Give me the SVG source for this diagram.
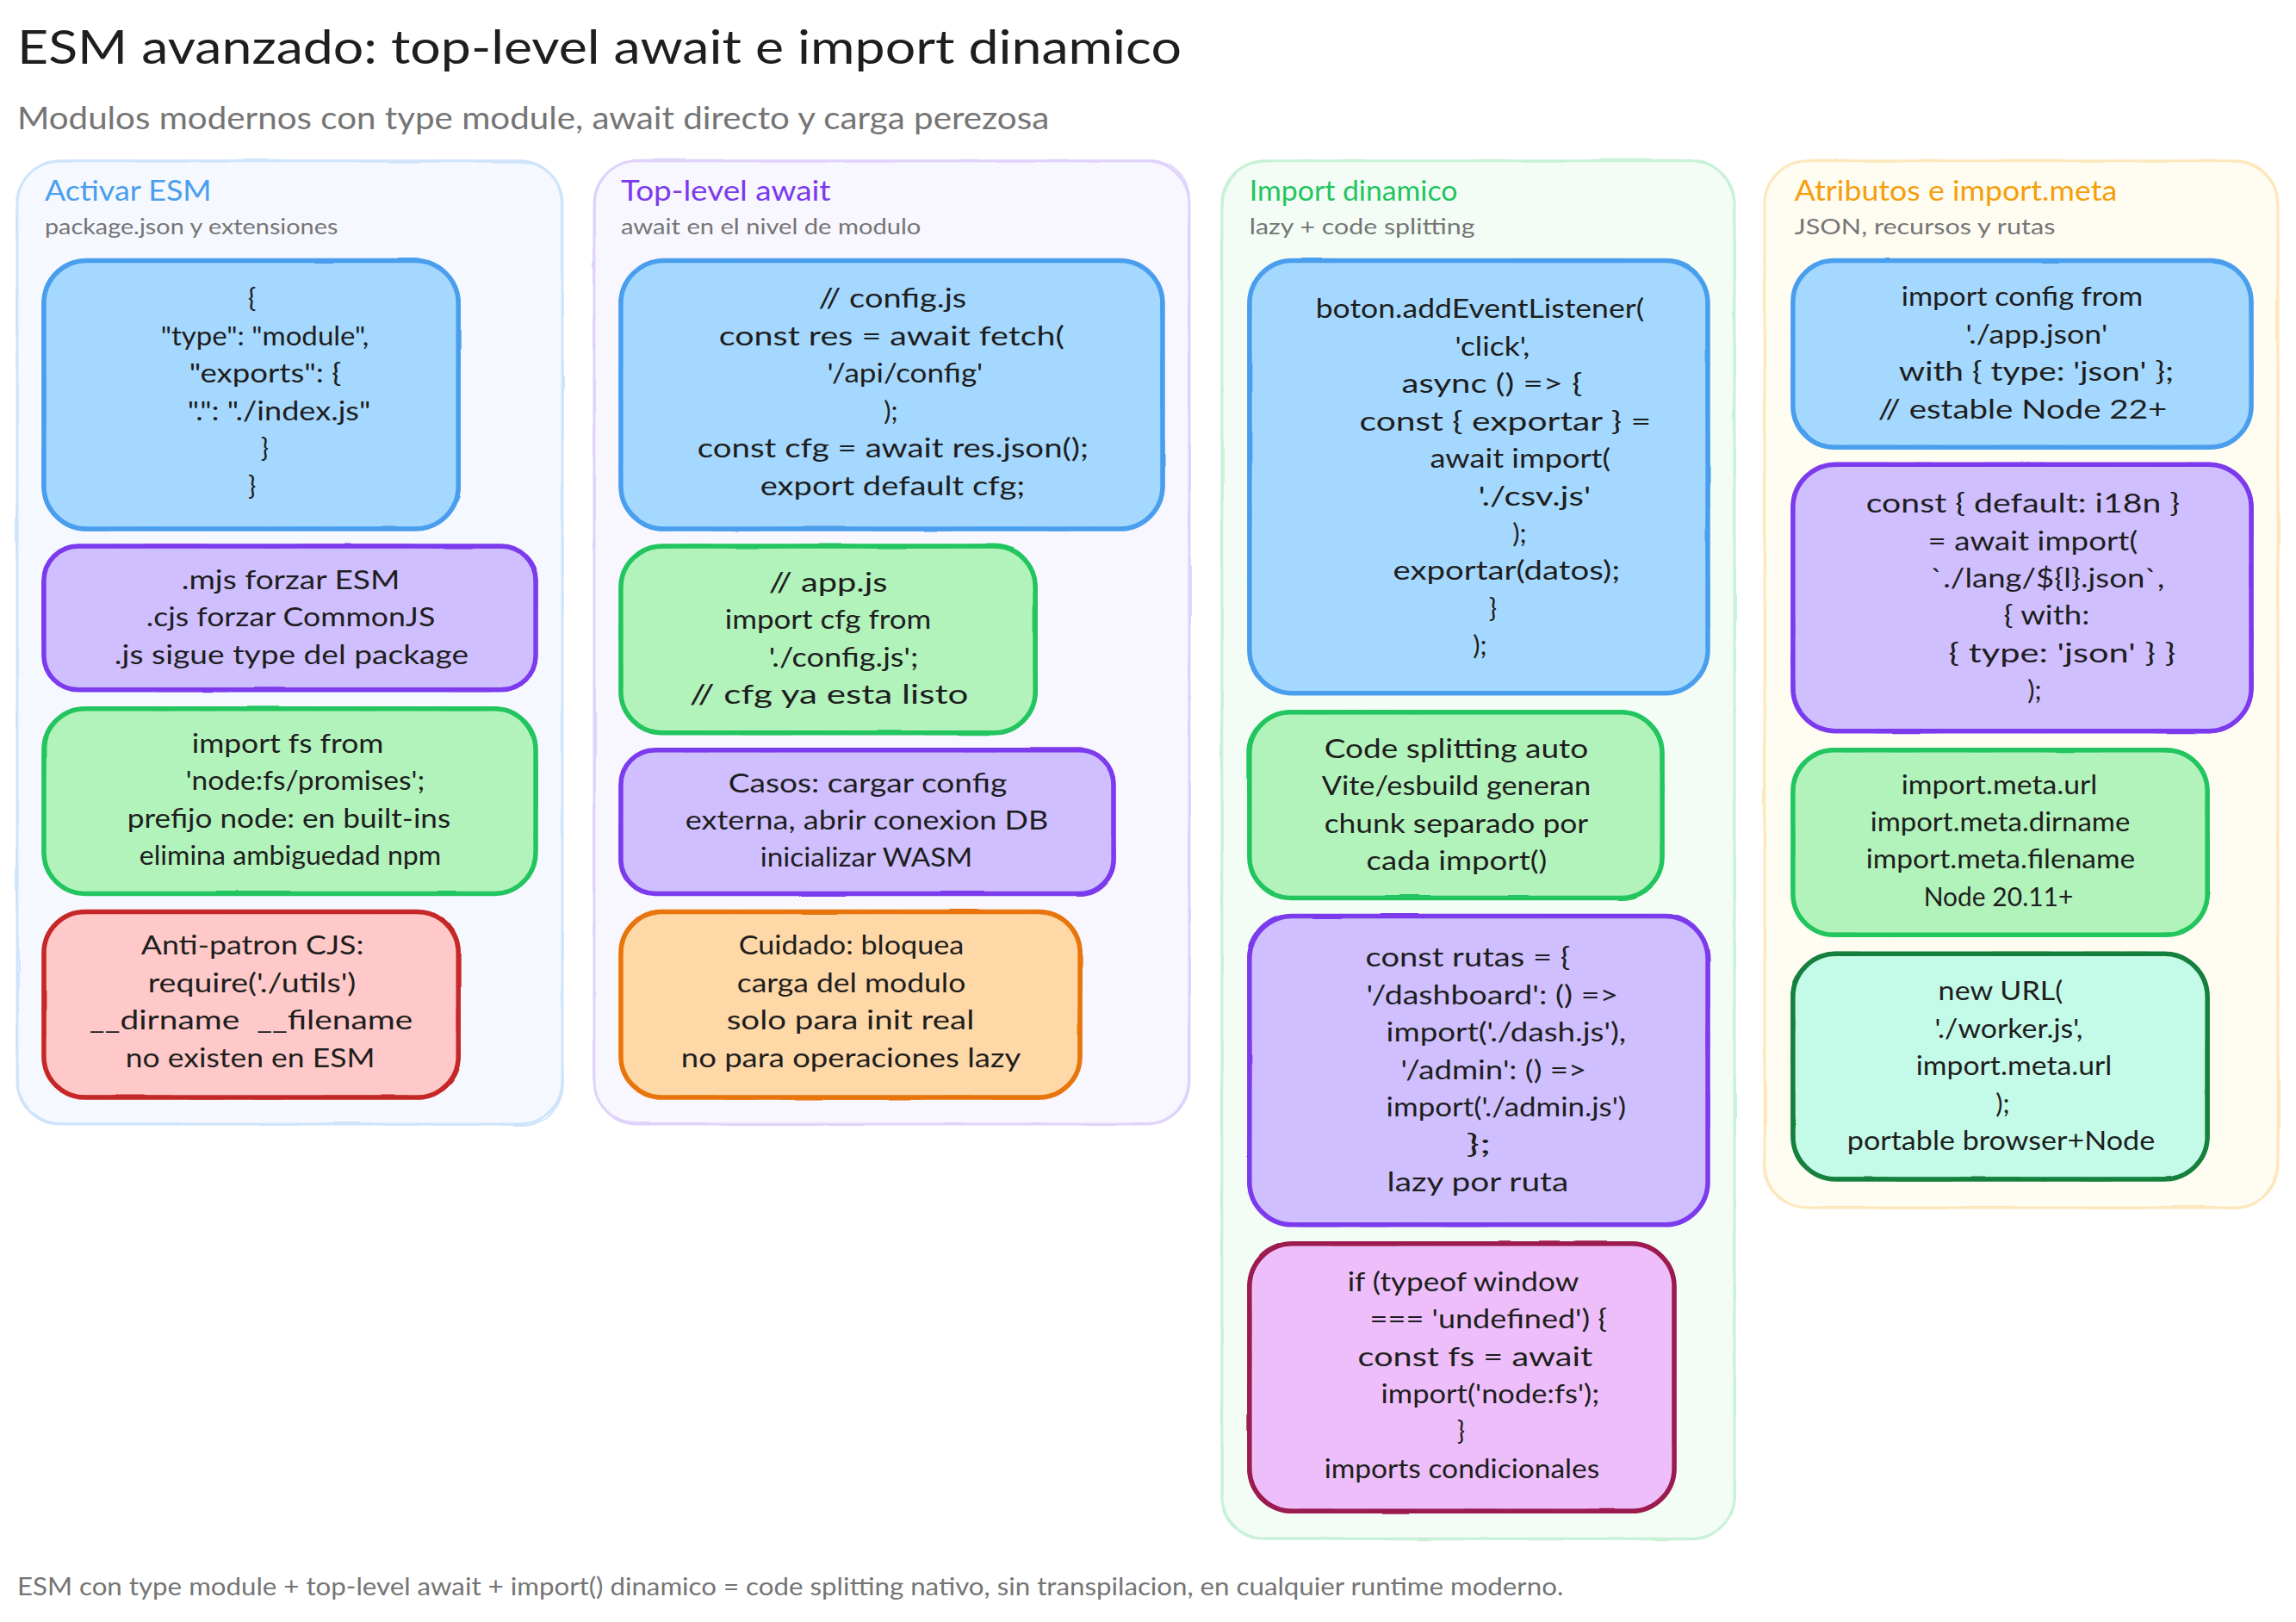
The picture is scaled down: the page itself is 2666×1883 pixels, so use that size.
<svg xmlns="http://www.w3.org/2000/svg" width="2666" height="1883" viewBox="0 0 2666 1883">
<style>
text{font-family:"Lato","Open Sans","Liberation Sans",sans-serif;fill:#1e1e1e}
.t{font-size:31px}
.m{text-anchor:middle}
.title{font-size:55px}
.sub{font-size:37px;fill:#757575}
.foot{font-size:28px;fill:#757575}
.ph{font-size:33px}
.ps{font-size:26px;fill:#757575}
.p rect{stroke-width:3}
.p .s{fill:none;stroke-width:2;filter:url(#w)}
.n rect{stroke-width:5.5}
.n .s{fill:none;stroke-width:3;filter:url(#w)}
.blue rect{fill:#a5d8ff;stroke:#4a9eed}
.purple rect{fill:#d0bfff;stroke:#7c3aed}
.green rect{fill:#b2f2bb;stroke:#22c55e}
.red rect{fill:#ffc9c9;stroke:#c62828}
.orange rect{fill:#ffd8a8;stroke:#e8750a}
.pink rect{fill:#eebefa;stroke:#9c1a4f}
.teal rect{fill:#c3fae8;stroke:#15803d}
.pb rect{fill:#f5f8ff;stroke:#cfe4fb}
.pv rect{fill:#f8f6ff;stroke:#e0d3fb}
.pg rect{fill:#f3fdf6;stroke:#c8f1d7}
.py rect{fill:#fffcf2;stroke:#fde8bd}
.s{fill:none}
</style>
<defs>
<filter id="w" x="-5%" y="-5%" width="110%" height="110%"><feTurbulence type="fractalNoise" baseFrequency="0.012" numOctaves="2" seed="7"/><feDisplacementMap in="SourceGraphic" scale="7" xChannelSelector="R" yChannelSelector="G"/></filter>
</defs>
<rect width="2666" height="1883" fill="#ffffff"/>
<g id="diagram" transform="scale(0.9985)">
<g id="header">
<text class="title" x="20" y="74" textLength="1354" lengthAdjust="spacingAndGlyphs">ESM avanzado: top-level await e import dinamico</text>
<text class="sub" x="20" y="150" textLength="1200" lengthAdjust="spacingAndGlyphs">Modulos modernos con type module, await directo y carga perezosa</text>
</g>
<g id="panel-esm" class="p pb"><rect x="20" y="187" width="634" height="1120" rx="50"/><rect class="s" x="20" y="187" width="634" height="1120" rx="50"/>
<text class="ph" x="52" y="233" textLength="194" lengthAdjust="spacingAndGlyphs" style="fill:#4a9eed">Activar ESM</text>
<text class="ps" x="52" y="272" textLength="341" lengthAdjust="spacingAndGlyphs">package.json y extensiones</text></g>
<g id="panel-tla" class="p pv"><rect x="691" y="187" width="692" height="1120" rx="50"/><rect class="s" x="691" y="187" width="692" height="1120" rx="50"/>
<text class="ph" x="722" y="233" textLength="244" lengthAdjust="spacingAndGlyphs" style="fill:#7c3aed">Top-level await</text>
<text class="ps" x="722" y="272" textLength="349" lengthAdjust="spacingAndGlyphs">await en el nivel de modulo</text></g>
<g id="panel-dyn" class="p pg"><rect x="1421" y="187" width="596" height="1602" rx="50"/><rect class="s" x="1421" y="187" width="596" height="1602" rx="50"/>
<text class="ph" x="1453" y="233" textLength="242" lengthAdjust="spacingAndGlyphs" style="fill:#22c55e">Import dinamico</text>
<text class="ps" x="1453" y="272" textLength="262" lengthAdjust="spacingAndGlyphs">lazy + code splitting</text></g>
<g id="panel-attr" class="p py"><rect x="2052" y="187" width="597" height="1217" rx="50"/><rect class="s" x="2052" y="187" width="597" height="1217" rx="50"/>
<text class="ph" x="2087" y="233" textLength="375" lengthAdjust="spacingAndGlyphs" style="fill:#f59e0b">Atributos e import.meta</text>
<text class="ps" x="2087" y="272" textLength="303" lengthAdjust="spacingAndGlyphs">JSON, recursos y rutas</text></g>

<g id="esm-1" class="n blue"><rect x="51" y="303" width="482" height="312" rx="50"/><rect class="s" x="51" y="303" width="482" height="312" rx="50"/>
<text class="t m" x="293" y="358">{</text>
<text class="t" x="187" y="401.5" textLength="242" lengthAdjust="spacingAndGlyphs">"type": "module",</text>
<text class="t" x="220" y="445" textLength="177" lengthAdjust="spacingAndGlyphs">"exports": {</text>
<text class="t" x="218" y="488.5" textLength="213" lengthAdjust="spacingAndGlyphs">".": "./index.js"</text>
<text class="t m" x="308" y="532">}</text>
<text class="t m" x="293" y="575.5">}</text></g>
<g id="esm-2" class="n purple"><rect x="51" y="635" width="572" height="167" rx="40"/><rect class="s" x="51" y="635" width="572" height="167" rx="40"/>
<text class="t" x="211" y="685" textLength="254" lengthAdjust="spacingAndGlyphs">.mjs forzar ESM</text>
<text class="t" x="170" y="728.5" textLength="336" lengthAdjust="spacingAndGlyphs">.cjs forzar CommonJS</text>
<text class="t" x="133" y="772" textLength="412" lengthAdjust="spacingAndGlyphs">.js sigue type del package</text></g>
<g id="esm-3" class="n green"><rect x="51" y="824" width="572" height="215" rx="48"/><rect class="s" x="51" y="824" width="572" height="215" rx="48"/>
<text class="t" x="223" y="875" textLength="223" lengthAdjust="spacingAndGlyphs">import fs from</text>
<text class="t" x="216" y="918.5" textLength="278" lengthAdjust="spacingAndGlyphs">'node:fs/promises';</text>
<text class="t" x="148" y="962" textLength="376" lengthAdjust="spacingAndGlyphs">prefijo node: en built-ins</text>
<text class="t" x="162" y="1005.5" textLength="351" lengthAdjust="spacingAndGlyphs">elimina ambiguedad npm</text></g>
<g id="esm-4" class="n red"><rect x="51" y="1060" width="482" height="216" rx="48"/><rect class="s" x="51" y="1060" width="482" height="216" rx="48"/>
<text class="t" x="164" y="1110" textLength="259" lengthAdjust="spacingAndGlyphs">Anti-patron CJS:</text>
<text class="t" x="172" y="1153.5" textLength="242" lengthAdjust="spacingAndGlyphs">require('./utils')</text>
<text class="t" x="104" y="1197" textLength="376" lengthAdjust="spacingAndGlyphs" xml:space="preserve">__dirname  __filename</text>
<text class="t" x="146" y="1240.5" textLength="290" lengthAdjust="spacingAndGlyphs">no existen en ESM</text></g>

<g id="tla-1" class="n blue"><rect x="722" y="303" width="630" height="312" rx="50"/><rect class="s" x="722" y="303" width="630" height="312" rx="50"/>
<text class="t" x="952" y="358" textLength="172" lengthAdjust="spacingAndGlyphs">// config.js</text>
<text class="t" x="836" y="401.5" textLength="402" lengthAdjust="spacingAndGlyphs">const res = await fetch(</text>
<text class="t" x="962" y="445" textLength="181" lengthAdjust="spacingAndGlyphs">'/api/config'</text>
<text class="t m" x="1036" y="488.5">);</text>
<text class="t" x="811" y="532" textLength="455" lengthAdjust="spacingAndGlyphs">const cfg = await res.json();</text>
<text class="t" x="884" y="575.5" textLength="308" lengthAdjust="spacingAndGlyphs">export default cfg;</text></g>
<g id="tla-2" class="n green"><rect x="722" y="635" width="482" height="217" rx="48"/><rect class="s" x="722" y="635" width="482" height="217" rx="48"/>
<text class="t" x="894" y="688" textLength="138" lengthAdjust="spacingAndGlyphs">// app.js</text>
<text class="t" x="843" y="731.5" textLength="240" lengthAdjust="spacingAndGlyphs">import cfg from</text>
<text class="t" x="894" y="775" textLength="174" lengthAdjust="spacingAndGlyphs">'./config.js';</text>
<text class="t" x="802" y="818.5" textLength="324" lengthAdjust="spacingAndGlyphs">// cfg ya esta listo</text></g>
<g id="tla-3" class="n purple"><rect x="722" y="872" width="573" height="167" rx="40"/><rect class="s" x="722" y="872" width="573" height="167" rx="40"/>
<text class="t" x="847" y="921" textLength="324" lengthAdjust="spacingAndGlyphs">Casos: cargar config</text>
<text class="t" x="797" y="964.5" textLength="422" lengthAdjust="spacingAndGlyphs">externa, abrir conexion DB</text>
<text class="t" x="884" y="1008" textLength="247" lengthAdjust="spacingAndGlyphs">inicializar WASM</text></g>
<g id="tla-4" class="n orange"><rect x="722" y="1060" width="534" height="216" rx="48"/><rect class="s" x="722" y="1060" width="534" height="216" rx="48"/>
<text class="t" x="859" y="1110" textLength="262" lengthAdjust="spacingAndGlyphs">Cuidado: bloquea</text>
<text class="t" x="857" y="1153.5" textLength="266" lengthAdjust="spacingAndGlyphs">carga del modulo</text>
<text class="t" x="845" y="1197" textLength="288" lengthAdjust="spacingAndGlyphs">solo para init real</text>
<text class="t" x="792" y="1240.5" textLength="395" lengthAdjust="spacingAndGlyphs">no para operaciones lazy</text></g>

<g id="dyn-1" class="n blue"><rect x="1453" y="303" width="533" height="503" rx="50"/><rect class="s" x="1453" y="303" width="533" height="503" rx="50"/>
<text class="t" x="1530" y="370" textLength="382" lengthAdjust="spacingAndGlyphs">boton.addEventListener(</text>
<text class="t" x="1692" y="413.5" textLength="87" lengthAdjust="spacingAndGlyphs">'click',</text>
<text class="t" x="1630" y="457" textLength="210" lengthAdjust="spacingAndGlyphs">async () =&gt; {</text>
<text class="t" x="1581" y="500.5" textLength="339" lengthAdjust="spacingAndGlyphs">const { exportar } =</text>
<text class="t" x="1663" y="544" textLength="210" lengthAdjust="spacingAndGlyphs">await import(</text>
<text class="t" x="1719" y="587.5" textLength="131" lengthAdjust="spacingAndGlyphs">'./csv.js'</text>
<text class="t m" x="1767" y="631">);</text>
<text class="t" x="1620" y="674.5" textLength="264" lengthAdjust="spacingAndGlyphs">exportar(datos);</text>
<text class="t m" x="1736" y="718">}</text>
<text class="t m" x="1721" y="761.5">);</text></g>
<g id="dyn-2" class="n green"><rect x="1453" y="828" width="480" height="216" rx="48"/><rect class="s" x="1453" y="828" width="480" height="216" rx="48"/>
<text class="t" x="1540" y="881" textLength="307" lengthAdjust="spacingAndGlyphs">Code splitting auto</text>
<text class="t" x="1537" y="924.5" textLength="313" lengthAdjust="spacingAndGlyphs">Vite/esbuild generan</text>
<text class="t" x="1540" y="968" textLength="307" lengthAdjust="spacingAndGlyphs">chunk separado por</text>
<text class="t" x="1589" y="1011.5" textLength="210" lengthAdjust="spacingAndGlyphs">cada import()</text></g>
<g id="dyn-3" class="n purple"><rect x="1453" y="1065" width="533" height="359" rx="50"/><rect class="s" x="1453" y="1065" width="533" height="359" rx="50"/>
<text class="t" x="1588" y="1124" textLength="238" lengthAdjust="spacingAndGlyphs">const rutas = {</text>
<text class="t" x="1589" y="1167.5" textLength="293" lengthAdjust="spacingAndGlyphs">'/dashboard': () =&gt;</text>
<text class="t" x="1612" y="1211" textLength="279" lengthAdjust="spacingAndGlyphs">import('./dash.js'),</text>
<text class="t" x="1629" y="1254.5" textLength="216" lengthAdjust="spacingAndGlyphs">'/admin': () =&gt;</text>
<text class="t" x="1612" y="1298" textLength="279" lengthAdjust="spacingAndGlyphs">import('./admin.js')</text>
<text class="t" x="1705" y="1341.5" textLength="29" lengthAdjust="spacingAndGlyphs">};</text>
<text class="t" x="1613" y="1385" textLength="211" lengthAdjust="spacingAndGlyphs">lazy por ruta</text></g>
<g id="dyn-4" class="n pink"><rect x="1453" y="1446" width="494" height="311" rx="50"/><rect class="s" x="1453" y="1446" width="494" height="311" rx="50"/>
<text class="t" x="1567" y="1501" textLength="269" lengthAdjust="spacingAndGlyphs">if (typeof window</text>
<text class="t" x="1593" y="1544.5" textLength="276" lengthAdjust="spacingAndGlyphs">=== 'undefined') {</text>
<text class="t" x="1579" y="1588" textLength="273" lengthAdjust="spacingAndGlyphs">const fs = await</text>
<text class="t" x="1606" y="1631.5" textLength="254" lengthAdjust="spacingAndGlyphs">import('node:fs');</text>
<text class="t m" x="1699" y="1675">}</text>
<text class="t" x="1540" y="1718.5" textLength="320" lengthAdjust="spacingAndGlyphs">imports condicionales</text></g>

<g id="attr-1" class="n blue"><rect x="2085" y="303" width="533" height="217" rx="48"/><rect class="s" x="2085" y="303" width="533" height="217" rx="48"/>
<text class="t" x="2211" y="356" textLength="281" lengthAdjust="spacingAndGlyphs">import config from</text>
<text class="t" x="2286" y="399.5" textLength="165" lengthAdjust="spacingAndGlyphs">'./app.json'</text>
<text class="t" x="2208" y="443" textLength="320" lengthAdjust="spacingAndGlyphs">with { type: 'json' };</text>
<text class="t" x="2184" y="486.5" textLength="336" lengthAdjust="spacingAndGlyphs">// estable Node 22+</text></g>
<g id="attr-2" class="n purple"><rect x="2085" y="540" width="533" height="310" rx="50"/><rect class="s" x="2085" y="540" width="533" height="310" rx="50"/>
<text class="t" x="2170" y="596" textLength="365" lengthAdjust="spacingAndGlyphs">const { default: i18n }</text>
<text class="t" x="2242" y="639.5" textLength="244" lengthAdjust="spacingAndGlyphs">= await import(</text>
<text class="t" x="2245" y="683" textLength="272" lengthAdjust="spacingAndGlyphs">`./lang/${l}.json`,</text>
<text class="t" x="2330" y="726.5" textLength="100" lengthAdjust="spacingAndGlyphs">{ with:</text>
<text class="t" x="2266" y="770" textLength="264" lengthAdjust="spacingAndGlyphs">{ type: 'json' } }</text>
<text class="t m" x="2366" y="813.5">);</text></g>
<g id="attr-3" class="n green"><rect x="2085" y="872" width="482" height="215" rx="48"/><rect class="s" x="2085" y="872" width="482" height="215" rx="48"/>
<text class="t" x="2211" y="923" textLength="228" lengthAdjust="spacingAndGlyphs">import.meta.url</text>
<text class="t" x="2175" y="966.5" textLength="302" lengthAdjust="spacingAndGlyphs">import.meta.dirname</text>
<text class="t" x="2170" y="1010" textLength="313" lengthAdjust="spacingAndGlyphs">import.meta.filename</text>
<text class="t" x="2237" y="1053.5" textLength="174" lengthAdjust="spacingAndGlyphs">Node 20.11+</text></g>
<g id="attr-4" class="n teal"><rect x="2085" y="1109" width="482" height="262" rx="50"/><rect class="s" x="2085" y="1109" width="482" height="262" rx="50"/>
<text class="t" x="2254" y="1163" textLength="145" lengthAdjust="spacingAndGlyphs">new URL(</text>
<text class="t" x="2250" y="1206.5" textLength="172" lengthAdjust="spacingAndGlyphs">'./worker.js',</text>
<text class="t" x="2228" y="1250" textLength="228" lengthAdjust="spacingAndGlyphs">import.meta.url</text>
<text class="t m" x="2329" y="1293.5">);</text>
<text class="t" x="2148" y="1337" textLength="358" lengthAdjust="spacingAndGlyphs">portable browser+Node</text></g>
<text id="footer" class="foot" x="20" y="1855" textLength="1798" lengthAdjust="spacingAndGlyphs">ESM con type module + top-level await + import() dinamico = code splitting nativo, sin transpilacion, en cualquier runtime moderno.</text>
</g>
</svg>
